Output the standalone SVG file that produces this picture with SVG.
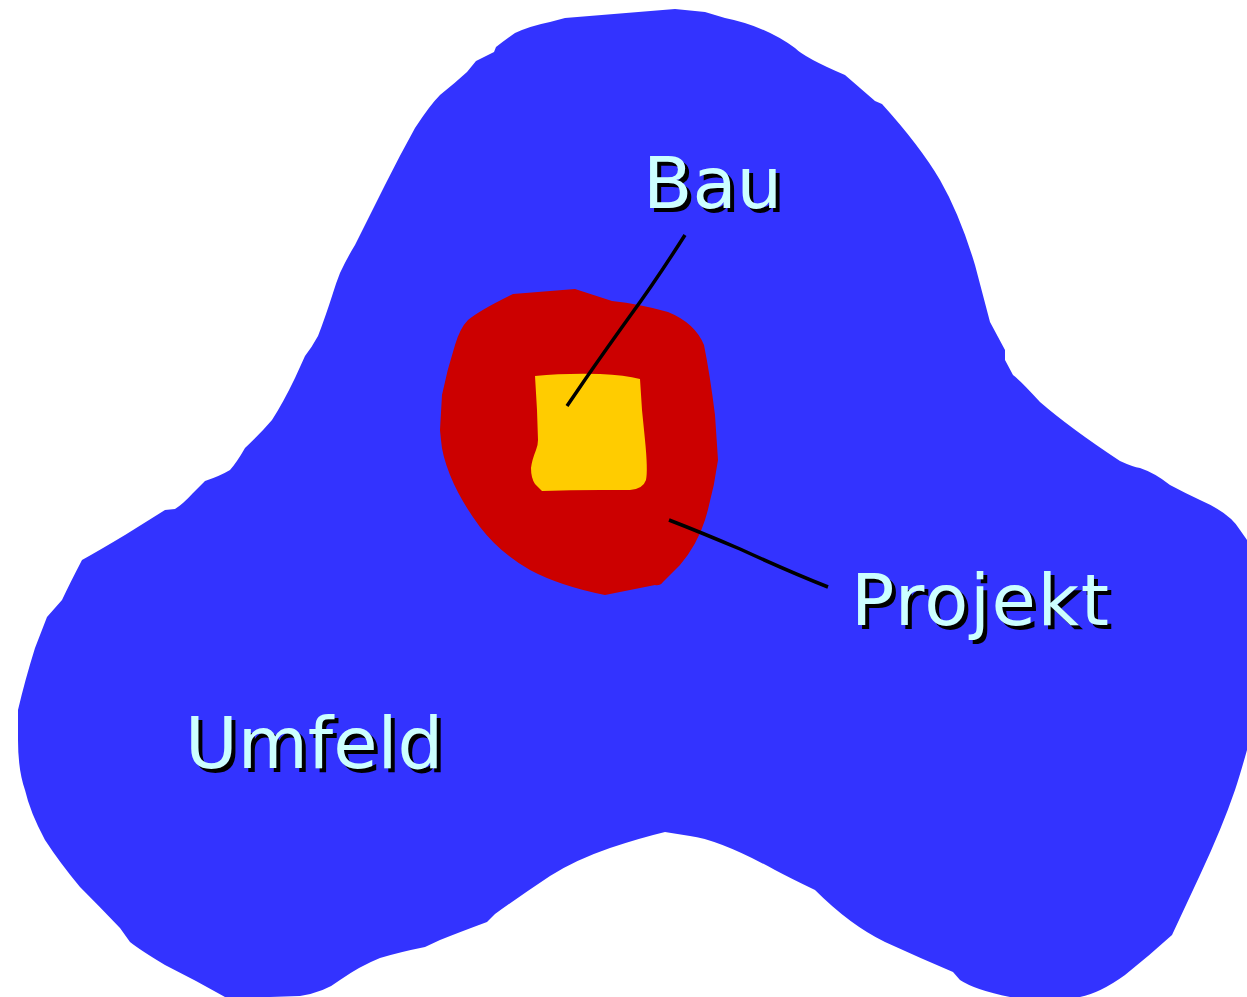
<svg xmlns="http://www.w3.org/2000/svg" width="1247" height="997" viewBox="0 0 1247 997">
<style>
.lbl{font-family:"DejaVu Sans","Verdana",sans-serif;font-size:72px}
.sh{fill:#000000}
.fg{fill:#ccffff}
.ln{fill:none;stroke:#000000;stroke-width:3.5}
</style>
<rect width="1247" height="997" fill="#ffffff"/>
<g id="umfeld-shape">
<path fill="#3333ff" d="M565,18 L675,9 L705,12 L725,18 Q765,26 795,48 Q805,58 845,75 Q860,88 875,101 L882,104 Q920,146 940,180 Q960,215 975,265 L990,322 L1005,350 L1005,360 L1013,375 Q1020,380 1040,402 Q1070,428 1120,461 Q1133,467 1140,468 Q1155,473 1170,485 Q1185,493 1200,500 Q1230,513 1240,530 L1247,540 L1247,750 Q1240,775 1235,790 Q1222,828 1200,875 L1172,935 Q1150,955 1125,975 Q1100,993 1080,997 L1010,997 Q975,990 960,980 L953,972 Q920,958 885,942 Q850,925 815,890 Q790,878 775,870 Q720,840 690,836 L665,832 Q640,838 610,848 Q575,860 550,876 Q520,896 495,914 L487,922 Q460,932 440,940 L425,947 Q400,952 380,958 Q360,966 340,980 Q325,992 300,996 L270,997 L225,997 Q195,980 165,965 Q140,950 130,942 L120,928 Q100,907 80,887 Q60,863 45,840 Q30,812 25,790 Q18,770 18,740 L18,710 Q25,680 35,648 L47,617 L62,600 Q70,583 82,560 Q100,550 125,535 L165,510 L175,509 Q183,504 193,493 L205,481 Q220,476 230,470 Q237,462 245,448 Q260,434 272,420 Q283,403 295,378 L305,356 Q312,347 318,336 Q325,318 333,293 Q336,283 340,273 Q347,258 355,245 L385,185 Q400,155 415,128 Q430,105 440,95 Q455,83 467,72 L476,61 L494,52 L496,47 Q505,40 515,33 Q530,26 550,22 Z"/>
</g>
<g id="projekt-shape">
<path fill="#cc0000" d="M513,294 L575,289 L612,301 Q640,304 668,312 Q695,323 704,345 Q710,375 715,415 L718,460 Q714,490 705,520 Q697,545 680,565 L663,582 Q660,586 655,585 L605,595 Q560,586 530,570 Q500,553 480,527 Q460,500 450,475 Q442,455 441,440 L440,430 L442,395 Q447,370 455,345 Q460,328 468,320 Q480,310 513,294 Z"/>
</g>
<g id="bau-shape">
<path fill="#ffcc00" d="M535,376 Q565,373 600,374 Q625,375 640,379 L642,410 L645,440 Q648,470 646,480 Q643,489 630,490 L600,490 Q570,490 542,491 L535,484 Q531,478 531,468 Q532,460 536,450 Q538,445 538,440 L537,410 Z"/>
</g>
<g id="connectors">
<path class="ln" d="M685,235 Q655,282 630,316 Q597,362 580,387 L567,406"/>
<path class="ln" d="M669,520 Q700,532 740,549 Q790,572 828,587"/>
</g>
<g id="label-bau">
<text class="lbl sh" x="647" y="212">Bau</text>
<text class="lbl fg" x="643" y="208">Bau</text>
</g>
<g id="label-projekt">
<text class="lbl sh" x="855" y="629" textLength="258" lengthAdjust="spacing">Projekt</text>
<text class="lbl fg" x="851" y="625" textLength="258" lengthAdjust="spacing">Projekt</text>
</g>
<g id="label-umfeld">
<text class="lbl sh" x="189" y="772">Umfeld</text>
<text class="lbl fg" x="185" y="768">Umfeld</text>
</g>
</svg>
